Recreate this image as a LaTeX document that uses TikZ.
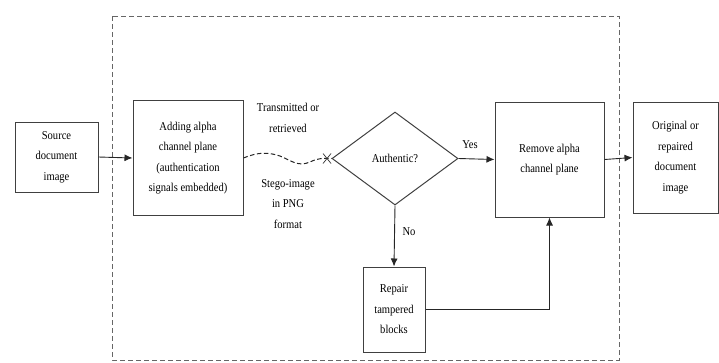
\documentclass[tikz,border=0pt]{standalone}
\usepackage{fontspec}
\setmainfont[FakeStretch=0.88]{Liberation Serif}
\usetikzlibrary{shapes.geometric,arrows.meta}
\begin{document}
\begin{tikzpicture}[x=1pt,y=-1pt,
  txt/.style={font=\fontsize{12}{20.5}\selectfont},
  box/.style={draw=black!75,line width=1pt,rectangle,inner sep=2pt,align=center,txt},
  lbl/.style={align=center,txt,inner sep=0pt},
  arr/.style={draw=black!85,line width=0.9pt,-{Latex[length=8pt,width=7pt]}},
  frame/.style={draw=black!60,line width=0.8pt,dash pattern=on 5pt off 3pt}]
\useasboundingbox (0,0) rectangle (719,362);
\draw[frame] (112,16) rectangle (619,360);
\node[box,minimum width=83pt,minimum height=70pt] (src) at (56.5,157) {Source\\document\\image};
\node[box,minimum width=110pt,minimum height=115pt] (add) at (188,158) {Adding alpha\\channel plane\\(authentication\\signals embedded)};
\node[draw=black!75,line width=1pt,diamond,minimum width=126pt,minimum height=93pt,inner sep=0pt,txt] (dia) at (395,158.5) {Authentic?};
\node[box,minimum width=109pt,minimum height=115pt] (rem) at (549.5,159.5) {Remove alpha\\channel plane};
\node[box,minimum width=85pt,minimum height=111pt] (orig) at (675.5,157.5) {Original or\\repaired\\document\\image};
\node[box,minimum width=62pt,minimum height=85pt] (rep) at (394,309.5) {Repair\\tampered\\blocks};
\node[lbl] (tr) at (288,118) {Transmitted or\\retrieved};
\node[lbl] (st) at (288,204) {Stego-image\\in PNG\\format};
\node[lbl] (yes) at (470,145) {Yes};
\node[lbl] (no) at (409,232) {No};
\draw[arr] (src.east) -- (add.west);
\draw[draw=black!85,line width=1pt,dash pattern=on 4.5pt off 2.5pt]
  (add.east) .. controls (258,152) and (268,152) .. (280,156)
  .. controls (292,161) and (298,167) .. (310,162)
  .. controls (318,158) and (324,158) .. (dia.west);
\coordinate (cx) at (327,158.5);
\draw[black!80,line width=0.7pt] ([shift={(-4,-5)}]cx) -- ([shift={(4,5)}]cx)
  ([shift={(-4,5)}]cx) -- ([shift={(4,-5)}]cx);
\draw[arr] (dia.east) -- (rem.west);
\draw[arr] (dia.south) -- (rep.north);
\draw[arr] (rep.east) -| (rem.south);
\draw[arr] (rem.east) -- (orig.west);
\end{tikzpicture}
\end{document}
